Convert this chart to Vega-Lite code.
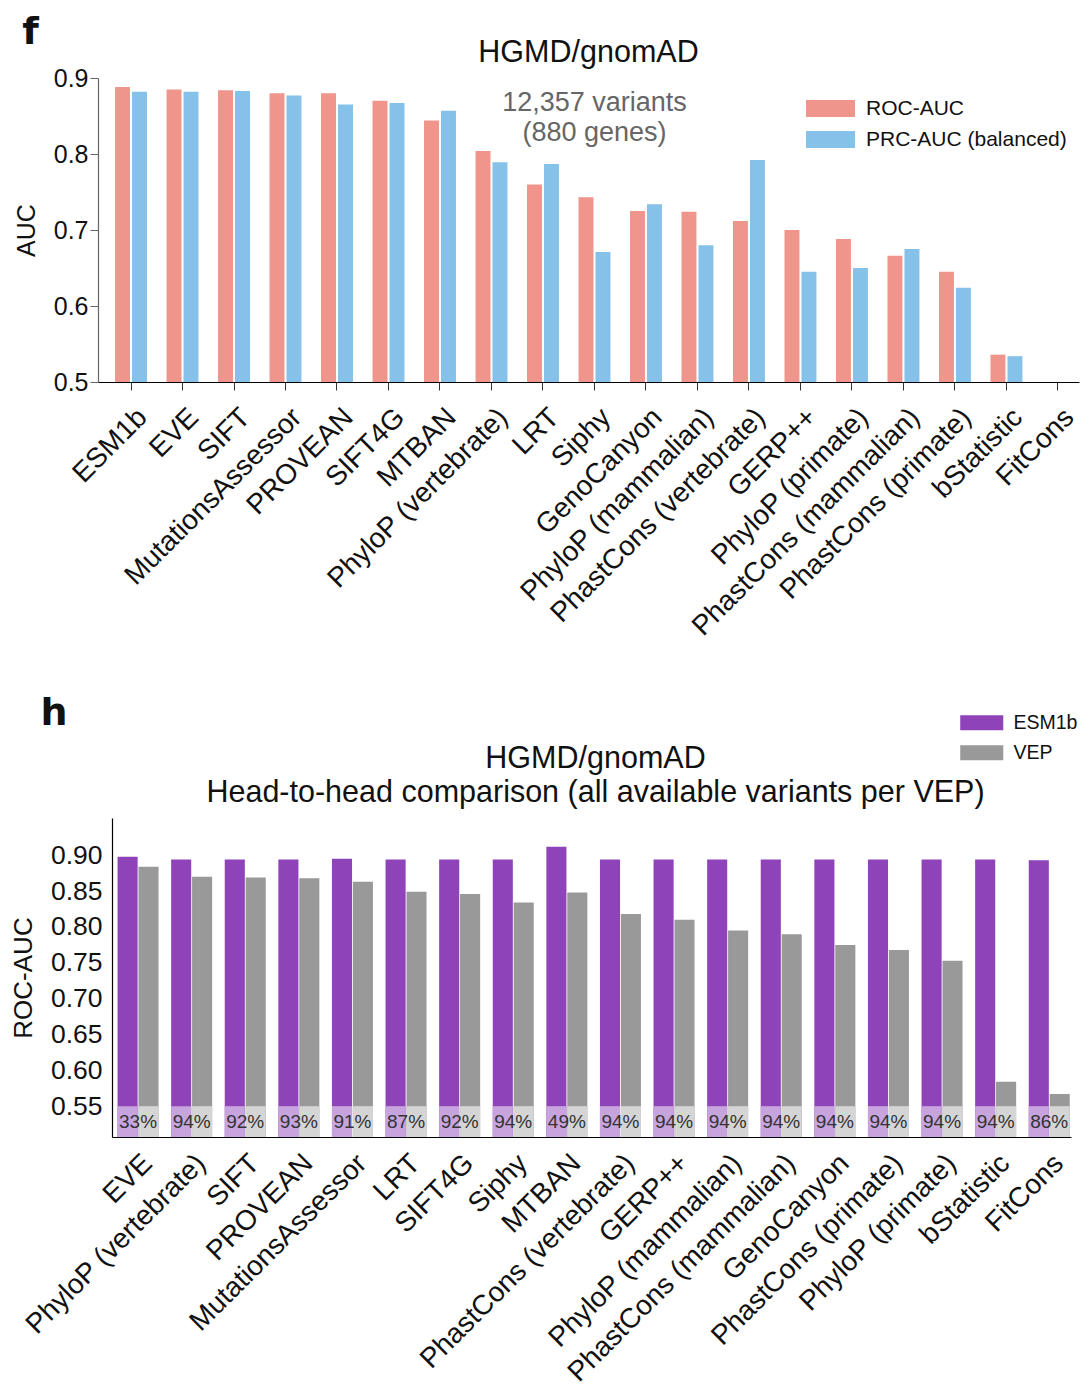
{
  "$schema": "https://vega.github.io/schema/vega-lite/v6.json",
  "padding": {"left": 10, "top": 13, "right": 0, "bottom": 0},
  "autosize": {"type": "pad"},
  "columns": 1,
  "align": "none",
  "spacing": 54,
  "resolve": {
    "scale": {"x": "independent", "y": "independent", "xOffset": "independent", "color": "independent"},
    "axis": {"x": "independent", "y": "independent"},
    "legend": {"color": "independent"}
  },
  "datasets": {
    "top": [
      {"method": "ESM1b", "metric": "ROC-AUC", "value": 0.888},
      {"method": "ESM1b", "metric": "PRC-AUC (balanced)", "value": 0.882},
      {"method": "EVE", "metric": "ROC-AUC", "value": 0.885},
      {"method": "EVE", "metric": "PRC-AUC (balanced)", "value": 0.882},
      {"method": "SIFT", "metric": "ROC-AUC", "value": 0.884},
      {"method": "SIFT", "metric": "PRC-AUC (balanced)", "value": 0.883},
      {"method": "MutationsAssessor", "metric": "ROC-AUC", "value": 0.880},
      {"method": "MutationsAssessor", "metric": "PRC-AUC (balanced)", "value": 0.877},
      {"method": "PROVEAN", "metric": "ROC-AUC", "value": 0.880},
      {"method": "PROVEAN", "metric": "PRC-AUC (balanced)", "value": 0.865},
      {"method": "SIFT4G", "metric": "ROC-AUC", "value": 0.870},
      {"method": "SIFT4G", "metric": "PRC-AUC (balanced)", "value": 0.867},
      {"method": "MTBAN", "metric": "ROC-AUC", "value": 0.844},
      {"method": "MTBAN", "metric": "PRC-AUC (balanced)", "value": 0.857},
      {"method": "PhyloP (vertebrate)", "metric": "ROC-AUC", "value": 0.804},
      {"method": "PhyloP (vertebrate)", "metric": "PRC-AUC (balanced)", "value": 0.789},
      {"method": "LRT", "metric": "ROC-AUC", "value": 0.760},
      {"method": "LRT", "metric": "PRC-AUC (balanced)", "value": 0.787},
      {"method": "Siphy", "metric": "ROC-AUC", "value": 0.743},
      {"method": "Siphy", "metric": "PRC-AUC (balanced)", "value": 0.671},
      {"method": "GenoCanyon", "metric": "ROC-AUC", "value": 0.725},
      {"method": "GenoCanyon", "metric": "PRC-AUC (balanced)", "value": 0.734},
      {"method": "PhyloP (mammalian)", "metric": "ROC-AUC", "value": 0.724},
      {"method": "PhyloP (mammalian)", "metric": "PRC-AUC (balanced)", "value": 0.680},
      {"method": "PhastCons (vertebrate)", "metric": "ROC-AUC", "value": 0.712},
      {"method": "PhastCons (vertebrate)", "metric": "PRC-AUC (balanced)", "value": 0.792},
      {"method": "GERP++", "metric": "ROC-AUC", "value": 0.700},
      {"method": "GERP++", "metric": "PRC-AUC (balanced)", "value": 0.645},
      {"method": "PhyloP (primate)", "metric": "ROC-AUC", "value": 0.688},
      {"method": "PhyloP (primate)", "metric": "PRC-AUC (balanced)", "value": 0.650},
      {"method": "PhastCons (mammalian)", "metric": "ROC-AUC", "value": 0.666},
      {"method": "PhastCons (mammalian)", "metric": "PRC-AUC (balanced)", "value": 0.675},
      {"method": "PhastCons (primate)", "metric": "ROC-AUC", "value": 0.645},
      {"method": "PhastCons (primate)", "metric": "PRC-AUC (balanced)", "value": 0.624},
      {"method": "bStatistic", "metric": "ROC-AUC", "value": 0.536},
      {"method": "bStatistic", "metric": "PRC-AUC (balanced)", "value": 0.534}
    ],
    "bottom": [
      {"method": "EVE", "series": "ESM1b", "value": 0.898, "pct": "33%"},
      {"method": "EVE", "series": "VEP", "value": 0.884, "pct": "33%"},
      {"method": "PhyloP (vertebrate)", "series": "ESM1b", "value": 0.894, "pct": "94%"},
      {"method": "PhyloP (vertebrate)", "series": "VEP", "value": 0.870, "pct": "94%"},
      {"method": "SIFT", "series": "ESM1b", "value": 0.894, "pct": "92%"},
      {"method": "SIFT", "series": "VEP", "value": 0.869, "pct": "92%"},
      {"method": "PROVEAN", "series": "ESM1b", "value": 0.894, "pct": "93%"},
      {"method": "PROVEAN", "series": "VEP", "value": 0.868, "pct": "93%"},
      {"method": "MutationsAssessor", "series": "ESM1b", "value": 0.895, "pct": "91%"},
      {"method": "MutationsAssessor", "series": "VEP", "value": 0.863, "pct": "91%"},
      {"method": "LRT", "series": "ESM1b", "value": 0.894, "pct": "87%"},
      {"method": "LRT", "series": "VEP", "value": 0.849, "pct": "87%"},
      {"method": "SIFT4G", "series": "ESM1b", "value": 0.894, "pct": "92%"},
      {"method": "SIFT4G", "series": "VEP", "value": 0.846, "pct": "92%"},
      {"method": "Siphy", "series": "ESM1b", "value": 0.894, "pct": "94%"},
      {"method": "Siphy", "series": "VEP", "value": 0.834, "pct": "94%"},
      {"method": "MTBAN", "series": "ESM1b", "value": 0.912, "pct": "49%"},
      {"method": "MTBAN", "series": "VEP", "value": 0.848, "pct": "49%"},
      {"method": "PhastCons (vertebrate)", "series": "ESM1b", "value": 0.894, "pct": "94%"},
      {"method": "PhastCons (vertebrate)", "series": "VEP", "value": 0.818, "pct": "94%"},
      {"method": "GERP++", "series": "ESM1b", "value": 0.894, "pct": "94%"},
      {"method": "GERP++", "series": "VEP", "value": 0.810, "pct": "94%"},
      {"method": "PhyloP (mammalian)", "series": "ESM1b", "value": 0.894, "pct": "94%"},
      {"method": "PhyloP (mammalian)", "series": "VEP", "value": 0.795, "pct": "94%"},
      {"method": "PhastCons (mammalian)", "series": "ESM1b", "value": 0.894, "pct": "94%"},
      {"method": "PhastCons (mammalian)", "series": "VEP", "value": 0.790, "pct": "94%"},
      {"method": "GenoCanyon", "series": "ESM1b", "value": 0.894, "pct": "94%"},
      {"method": "GenoCanyon", "series": "VEP", "value": 0.775, "pct": "94%"},
      {"method": "PhastCons (primate)", "series": "ESM1b", "value": 0.894, "pct": "94%"},
      {"method": "PhastCons (primate)", "series": "VEP", "value": 0.768, "pct": "94%"},
      {"method": "PhyloP (primate)", "series": "ESM1b", "value": 0.894, "pct": "94%"},
      {"method": "PhyloP (primate)", "series": "VEP", "value": 0.753, "pct": "94%"},
      {"method": "bStatistic", "series": "ESM1b", "value": 0.894, "pct": "94%"},
      {"method": "bStatistic", "series": "VEP", "value": 0.584, "pct": "94%"},
      {"method": "FitCons", "series": "ESM1b", "value": 0.893, "pct": "86%"},
      {"method": "FitCons", "series": "VEP", "value": 0.567, "pct": "86%"}
    ],
    "note": [
      {"note": "12,357 variants|(880 genes)"}
    ]
  },
  "concat": [
    {
      "title": {"text": "f", "anchor": "start", "font": "DejaVu Sans", "fontSize": 38, "fontWeight": "bold", "offset": -14, "dx": 8},
      "vconcat": [
        {
          "width": 981,
          "height": 304,
          "title": {"text": "HGMD/gnomAD", "fontSize": 30.5, "fontWeight": "normal", "offset": -2},
          "layer": [
            {
              "data": {"name": "top"},
              "mark": {"type": "bar"},
              "encoding": {
                "x": {
                  "field": "method",
                  "type": "nominal",
                  "scale": {
                    "domain": ["ESM1b", "EVE", "SIFT", "MutationsAssessor", "PROVEAN", "SIFT4G", "MTBAN", "PhyloP (vertebrate)", "LRT", "Siphy", "GenoCanyon", "PhyloP (mammalian)", "PhastCons (vertebrate)", "GERP++", "PhyloP (primate)", "PhastCons (mammalian)", "PhastCons (primate)", "bStatistic", "FitCons"],
                    "paddingInner": 0.38,
                    "paddingOuter": 0.215,
                    "align": 0.77
                  },
                  "axis": {
                    "title": null,
                    "labelAngle": -45,
                    "labelAlign": "right",
                    "labelBaseline": "top",
                    "labelFontSize": 28,
                    "labelPadding": 13,
                    "labelOffset": 2,
                    "labelLimit": 500,
                    "tickSize": 8,
                    "tickColor": "#333",
                    "domainColor": "#000"
                  }
                },
                "xOffset": {
                  "field": "metric",
                  "scale": {"domain": ["ROC-AUC", "PRC-AUC (balanced)"], "paddingInner": 0.12}
                },
                "y": {
                  "field": "value",
                  "type": "quantitative",
                  "scale": {"domain": [0.5, 0.9], "zero": false, "nice": false},
                  "axis": {
                    "title": "AUC",
                    "values": [0.5, 0.6, 0.7, 0.8, 0.9],
                    "format": ".1f",
                    "labelFontSize": 25,
                    "titleFontSize": 25,
                    "titlePadding": 14,
                    "tickSize": 8,
                    "tickColor": "#666",
                    "domainColor": "#666"
                  }
                },
                "y2": {"datum": 0.5},
                "color": {
                  "field": "metric",
                  "type": "nominal",
                  "scale": {"domain": ["ROC-AUC", "PRC-AUC (balanced)"], "range": ["#f0958b", "#85c1e9"]},
                  "legend": {
                    "title": null,
                    "orient": "none",
                    "legendX": 722,
                    "legendY": 20,
                    "symbolType": "M-2.88,-1H2.88V1H-2.88Z",
                    "symbolSize": 289,
                    "symbolStrokeWidth": 0,
                    "labelFontSize": 21,
                    "labelOffset": 25,
                    "labelLimit": 400,
                    "rowPadding": 9,
                    "padding": 0
                  }
                }
              }
            },
            {
              "data": {"name": "note"},
              "mark": {"type": "text", "fontSize": 27, "color": "#666", "lineBreak": "|", "lineHeight": 30, "baseline": "middle", "align": "center"},
              "encoding": {
                "x": {"datum": "Siphy"},
                "y": {"datum": 0.867, "scale": {"domain": [0.5, 0.9], "zero": false, "nice": false}},
                "text": {"field": "note"}
              }
            }
          ]
        }
      ]
    },
    {
      "title": {"text": "h", "anchor": "start", "font": "DejaVu Sans", "fontSize": 38, "fontWeight": "bold", "offset": -20, "dx": 30},
      "vconcat": [
        {
          "width": 973,
          "height": 319,
          "title": {"text": ["HGMD/gnomAD", "Head-to-head comparison (all available variants per VEP)"], "fontSize": 30.5, "fontWeight": "normal", "lineHeight": 34, "offset": 10, "dx": 11},
          "data": {"name": "bottom"},
          "encoding": {
            "x": {
              "field": "method",
              "type": "nominal",
              "sort": null,
              "scale": {"paddingInner": 0.235, "paddingOuter": 0.194, "align": 0.94},
              "axis": {
                "title": null,
                "labelAngle": -45,
                "labelAlign": "right",
                "labelBaseline": "top",
                "labelFontSize": 28,
                "labelPadding": 12,
                "labelLimit": 500,
                "ticks": false,
                "domainColor": "#000",
                "domainDash": [0, 14, 2000, 0]
              }
            }
          },
          "layer": [
            {
              "mark": {"type": "bar"},
              "encoding": {
                "xOffset": {"field": "series", "scale": {"domain": ["ESM1b", "VEP"], "paddingInner": 0.04}},
                "y": {
                  "field": "value",
                  "type": "quantitative",
                  "scale": {"domain": [0.507, 0.952], "zero": false, "nice": false},
                  "axis": {
                    "title": "ROC-AUC",
                    "values": [0.55, 0.6, 0.65, 0.7, 0.75, 0.8, 0.85, 0.9],
                    "format": ".2f",
                    "labelFontSize": 26.5,
                    "titleFontSize": 26,
                    "titlePadding": 14,
                    "ticks": false,
                    "labelPadding": 10,
                    "offset": -14,
                    "domainColor": "#000"
                  }
                },
                "y2": {"datum": 0.507},
                "color": {
                  "field": "series",
                  "type": "nominal",
                  "scale": {"domain": ["ESM1b", "VEP"], "range": ["#8e44b8", "#999999"]},
                  "legend": {
                    "title": null,
                    "orient": "none",
                    "legendX": 874,
                    "legendY": -105,
                    "symbolType": "M-2.87,-1H2.87V1H-2.87Z",
                    "symbolSize": 225,
                    "symbolStrokeWidth": 0,
                    "labelFontSize": 19.5,
                    "labelOffset": 22,
                    "rowPadding": 9,
                    "padding": 0
                  }
                }
              }
            },
            {
              "mark": {"type": "bar"},
              "encoding": {
                "xOffset": {"field": "series", "scale": {"domain": ["ESM1b", "VEP"], "paddingInner": 0.04}},
                "y": {"datum": 0.55, "type": "quantitative", "scale": {"domain": [0.507, 0.952], "zero": false, "nice": false}},
                "y2": {"datum": 0.507},
                "color": {
                  "condition": {"test": "datum.series === 'ESM1b'", "value": "#c8a4de"},
                  "value": "#d5d5d5"
                }
              }
            },
            {
              "transform": [{"filter": "datum.series === 'ESM1b'"}],
              "mark": {"type": "text", "fontSize": 19, "color": "#333", "baseline": "middle", "align": "center"},
              "encoding": {
                "y": {"datum": 0.528, "type": "quantitative", "scale": {"domain": [0.507, 0.952], "zero": false, "nice": false}},
                "text": {"field": "pct"}
              }
            }
          ]
        }
      ]
    }
  ],
  "config": {
    "font": "Liberation Sans",
    "view": {"stroke": null},
    "axis": {"grid": false, "labelColor": "#111", "titleColor": "#111", "titleFontWeight": "normal", "domainWidth": 1.2},
    "title": {"color": "#111"},
    "legend": {"labelColor": "#111"}
  }
}
